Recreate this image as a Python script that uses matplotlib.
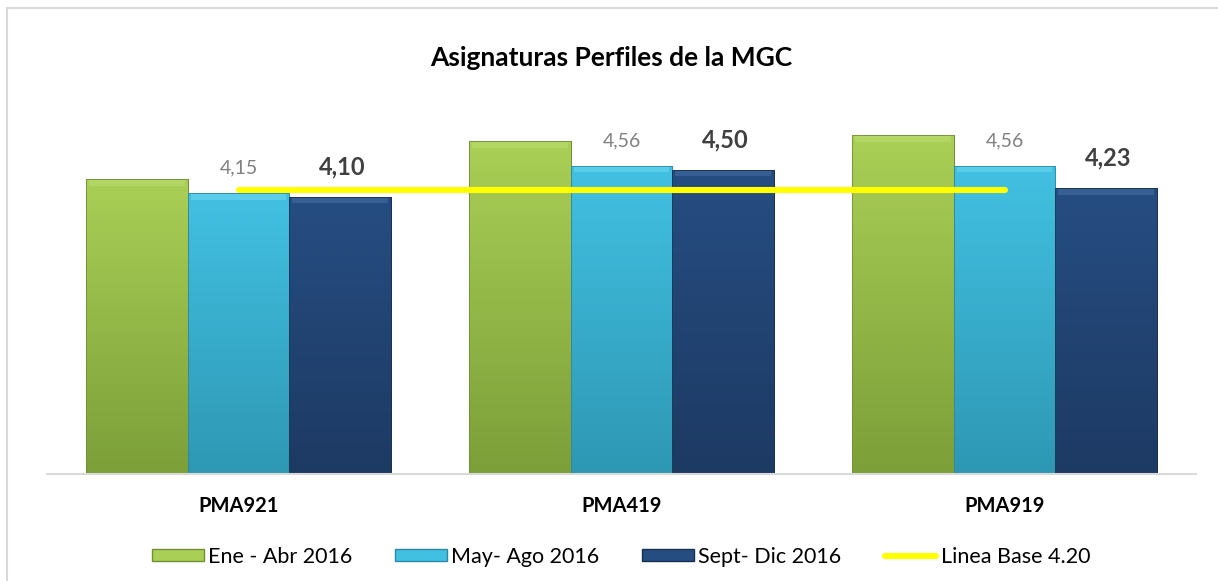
# Asignaturas Perfiles de la MGC - grouped bars with baseline
import numpy as np
import matplotlib.pyplot as plt
from matplotlib.patches import Patch, Rectangle
from matplotlib.lines import Line2D
from matplotlib.colors import LinearSegmentedColormap

plt.rcParams['font.family'] = ['Lato', 'DejaVu Sans']

categories = ["PMA921", "PMA419", "PMA919"]
series_names = ["Ene - Abr 2016", "May- Ago 2016", "Sept- Dic 2016"]
ene_abr = [4.36, 4.92, 5.01]
may_ago = [4.15, 4.56, 4.56]
sep_dic = [4.10, 4.50, 4.23]
linea_base = [4.20, 4.20, 4.20]
linea_label = "Linea Base 4.20"

# colour pairs: (top, bottom) of the gradient, plus top bevel highlight
grads = [("#aacf56", "#7c9f39"), ("#42c0e2", "#2e98b4"), ("#264d82", "#1d3a63")]
bevels = ["#bedd74", "#74dcf4", "#4a72a8"]
edges = ["#6f8f33", "#2a8aa5", "#16304f"]

fig = plt.figure(figsize=(12.18, 5.81), dpi=100)
ax = fig.add_axes([47/1218, 1 - 474/581, (1196 - 47)/1218, 372/581])

x = np.arange(len(categories))
w = 0.266
for i, vals in enumerate([ene_abr, may_ago, sep_dic]):
    bars = ax.bar(x + (i - 1) * w, vals, w, color=grads[i][0],
                  edgecolor=edges[i], linewidth=0.6, zorder=2)
    cmap = LinearSegmentedColormap.from_list("g%d" % i, [grads[i][1], grads[i][0]])
    for b in bars:
        x0, bw, h = b.get_x(), b.get_width(), b.get_height()
        grad = np.linspace(0, 1, 100).reshape(-1, 1)
        im = ax.imshow(grad, extent=[x0, x0 + bw, 0, h], origin='lower',
                       aspect='auto', cmap=cmap, zorder=2.1)
        im.set_clip_path(b)
        # bevel highlight on top
        ax.bar(x0 + bw / 2, 0.09, bw * 0.94, bottom=h - 0.1,
               color=bevels[i], alpha=0.5, linewidth=0, zorder=2.2)
        ax.bar(x0 + bw / 2, h, bw, fill=False, edgecolor=edges[i],
               linewidth=0.6, zorder=2.3)

ax.plot(x, linea_base, color="#ffff00", lw=4.4, solid_capstyle='round', zorder=4)

for xi, v in zip(x, may_ago):
    ax.annotate(("%.2f" % v).replace(".", ","), (xi, v), xytext=(0, 12),
                textcoords='offset points', ha='center', va='bottom',
                fontsize=14, color="#808080")
for xi, v in zip(x + w, sep_dic):
    ax.annotate(("%.2f" % v).replace(".", ","), (xi + 0.005, v), xytext=(0, 13),
                textcoords='offset points', ha='center', va='bottom',
                fontsize=17, fontweight='bold', color="#404040")

ax.set_xlim(-0.5, 2.5)
ax.set_ylim(0, 5.5)
ax.set_xticks(x)
ax.set_xticklabels(categories, fontsize=14.5, fontweight='bold')
ax.tick_params(axis='x', length=0, pad=16)
ax.set_yticks([])
for s in ['top', 'left', 'right']:
    ax.spines[s].set_visible(False)
ax.spines['bottom'].set_color("#d9d9d9")
ax.spines['bottom'].set_linewidth(1.5)
ax.set_facecolor('none')

fig.text(611/1218, 1 - 66/581, "Asignaturas Perfiles de la MGC", ha='center',
         va='baseline', fontsize=19, fontweight='bold', color="#000000")

handles = [Patch(facecolor=grads[i][0], edgecolor=edges[i]) for i in range(3)]
handles.append(Line2D([0], [0], color="#ffff00", lw=4.4, solid_capstyle='round'))
fig.legend(handles, series_names + [linea_label], loc='center',
           bbox_to_anchor=(621/1218, 1 - 557/581), ncol=4, frameon=False,
           fontsize=15.5, handlelength=2.4, handleheight=0.5,
           handletextpad=0.2, columnspacing=2.0)

# outer chart border
fig.patches.append(Rectangle((7/1218, -0.1), 1.2, 1.1 - 8/581, transform=fig.transFigure,
                             fill=False, edgecolor="#d9d9d9", linewidth=1.5))

fig.savefig("out.png", dpi=100)
